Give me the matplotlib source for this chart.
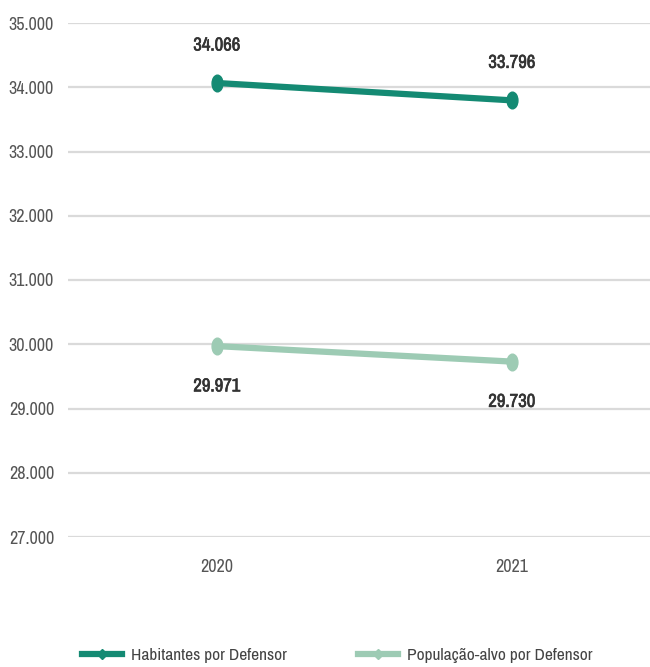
import matplotlib.pyplot as plt
import matplotlib.patheffects as pe
from matplotlib import font_manager
from matplotlib.path import Path
from matplotlib.transforms import Affine2D

years = ['2020', '2021']
habitantes = [34066, 33796]
populacao_alvo = [29971, 29730]
series_names = ['Habitantes por Defensor', 'População-alvo por Defensor']
y_ticks = [27000, 28000, 29000, 30000, 31000, 32000, 33000, 34000, 35000]

# prefer a narrow sans face if one is installed
fonts = font_manager.fontManager.ttflist
narrow = sorted({f.name for f in fonts
                 if 'Narrow' in f.name or 'Condensed' in f.name})
family = narrow[0] if narrow else 'Liberation Sans'
plt.rcParams['font.family'] = [family, 'DejaVu Sans']
has_bold = any(f.name == family and f.weight in ('bold', 700, 600)
               for f in fonts)
if has_bold:
    label_kw = dict(fontweight='bold')
else:
    label_kw = dict(path_effects=[pe.withStroke(linewidth=0.45,
                                                foreground='#333333')])


def fmt(v):
    return f'{v:,}'.replace(',', '.')


fig = plt.figure(figsize=(6.5, 6.67), dpi=100)
ax = fig.add_axes([68 / 650, 1 - 537 / 667, 582 / 650, (537 - 23) / 667])

dark = '#148a73'
light = '#9dcbb4'
x = list(range(len(years)))

# tall, slightly narrow dot at each point
dot = Path(Affine2D().scale(0.65, 1).transform(Path.unit_circle().vertices),
           Path.unit_circle().codes)

ax.plot(x, habitantes, color=dark, lw=4.5, marker=dot, ms=12, zorder=3,
        solid_capstyle='round')
ax.plot(x, populacao_alvo, color=light, lw=4.5, marker=dot, ms=12, zorder=3,
        solid_capstyle='round')

for xi, v in zip(x, habitantes):
    ax.annotate(fmt(v), (xi, v), xytext=(0, 27), textcoords='offset points',
                ha='center', va='center', fontsize=13.5, color='#333333',
                **label_kw)
for xi, v in zip(x, populacao_alvo):
    ax.annotate(fmt(v), (xi, v), xytext=(0, -29), textcoords='offset points',
                ha='center', va='center', fontsize=13.5, color='#333333',
                **label_kw)

ax.set_ylim(27000, 35000)
ax.set_yticks(y_ticks)
ax.set_yticklabels([fmt(t) for t in y_ticks])
ax.set_xlim(-0.505, 1.468)
ax.set_xticks(x)
ax.set_xticklabels(years)
ax.tick_params(axis='both', length=0, labelsize=13, colors='#555555')
ax.tick_params(axis='y', pad=10)
ax.tick_params(axis='x', pad=16)
ax.grid(axis='y', color='#dadada', lw=1.6)
ax.set_axisbelow(True)
for s in ax.spines.values():
    s.set_visible(False)

# one legend entry per series, placed side by side under the plot
for c, name, x0 in zip((dark, light), series_names, (82, 358)):
    h = plt.Line2D([], [], color=c, lw=4.5, marker='D', ms=5)
    fig.legend([h], [name], loc='center left',
               bbox_to_anchor=(x0 / 650, 1 - 655 / 667),
               frameon=False, fontsize=12.5, handlelength=2.3,
               handletextpad=0.5, borderpad=0, borderaxespad=0,
               labelcolor='#444444')

fig.savefig('out.png', dpi=100)
